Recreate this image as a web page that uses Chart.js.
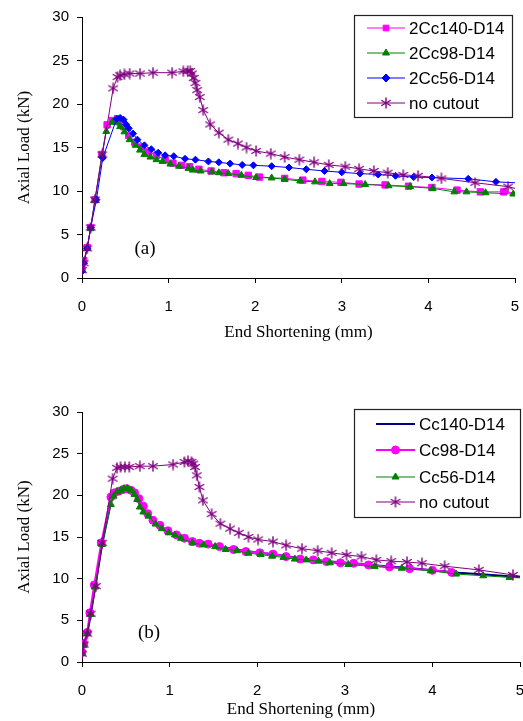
<!DOCTYPE html>
<html>
<head>
<meta charset="utf-8">
<script src="https://cdn.jsdelivr.net/npm/chart.js@4/dist/chart.umd.min.js"></script>
<style>
    body { margin: 0; background: #fff; }
    #wrap { position: relative; width: 523px; height: 721px; background: #fff; overflow: hidden; }
    #c1 { position: absolute; left: 0; top: 0; }
    #c2 { position: absolute; left: 0; top: 345px; }
</style>
</head>
<body>
<div id="wrap">
    <canvas id="c1" width="523" height="345"></canvas>
    <canvas id="c2" width="530" height="376"></canvas>
</div>
<script>
// ---- data (a) ----
const labelsA = ['2Cc140-D14', '2Cc98-D14', '2Cc56-D14', 'no cutout'];

const cc140X_a = [0, 0.02, 0.06, 0.1, 0.15, 0.23, 0.29, 0.35, 0.41, 0.44, 0.48, 0.54, 0.61, 0.69, 0.77, 0.86, 0.96, 1.05, 1.15, 1.24, 1.35, 1.49, 1.64, 1.78, 1.92, 2.05, 2.34, 2.55, 2.77, 2.99, 3.20, 3.50, 3.77, 4.04, 4.33, 4.60, 4.87, 5.0];
const cc140Y_a = [1.0, 2.0, 3.5, 5.8, 9.0, 14.2, 17.6, 18.1, 18.3, 17.9, 17.4, 16.4, 15.6, 15.05, 14.5, 14.1, 13.6, 13.2, 12.95, 12.8, 12.5, 12.3, 12.1, 12.0, 11.8, 11.6, 11.45, 11.25, 11.1, 11.0, 10.8, 10.7, 10.55, 10.4, 10.1, 9.9, 9.9, 9.8];

const cc98X_a = [0, 0.02, 0.06, 0.1, 0.15, 0.23, 0.28, 0.35, 0.40, 0.44, 0.49, 0.55, 0.62, 0.67, 0.72, 0.79, 0.86, 0.93, 1.02, 1.12, 1.23, 1.28, 1.37, 1.50, 1.58, 1.69, 1.84, 2.01, 2.19, 2.34, 2.52, 2.69, 2.86, 3.02, 3.27, 3.54, 3.79, 4.05, 4.30, 4.44, 4.66, 4.98, 5.0];
const cc98Y_a = [0.9, 1.9, 3.4, 5.7, 8.9, 14.1, 16.85, 17.9, 17.9, 17.4, 16.8, 15.9, 15.25, 14.7, 14.2, 13.9, 13.6, 13.4, 13.1, 12.85, 12.6, 12.4, 12.3, 12.2, 12.1, 12.0, 11.8, 11.55, 11.5, 11.35, 11.15, 11.05, 10.85, 10.85, 10.75, 10.6, 10.5, 10.3, 9.9, 9.9, 9.8, 9.65, 9.6];

const cc56X_a = [0, 0.02, 0.06, 0.1, 0.166, 0.24, 0.40, 0.44, 0.48, 0.51, 0.54, 0.59, 0.64, 0.72, 0.80, 0.88, 0.96, 1.06, 1.19, 1.31, 1.46, 1.58, 1.71, 1.85, 1.98, 2.19, 2.39, 2.59, 2.80, 3.00, 3.21, 3.42, 3.62, 3.83, 4.04, 4.46, 4.78, 5.0];
const cc56Y_a = [0.75, 1.7, 3.4, 5.8, 9.0, 13.8, 18.3, 18.4, 18.2, 17.65, 17.2, 16.6, 15.9, 15.25, 14.8, 14.4, 14.1, 14.0, 13.7, 13.6, 13.4, 13.3, 13.15, 13.0, 12.95, 12.85, 12.7, 12.5, 12.3, 12.15, 12.0, 11.9, 11.75, 11.6, 11.55, 11.4, 11.05, 10.95];

const noCutX_a = [0, 0.02, 0.06, 0.1, 0.15, 0.235, 0.36, 0.41, 0.44, 0.49, 0.55, 0.67, 0.82, 1.04, 1.17, 1.22, 1.25, 1.27, 1.29, 1.31, 1.33, 1.36, 1.40, 1.48, 1.58, 1.69, 1.80, 1.90, 2.01, 2.18, 2.34, 2.51, 2.68, 2.85, 3.04, 3.20, 3.37, 3.53, 3.71, 3.88, 4.15, 4.54, 4.92, 5.0];
const noCutY_a = [0.9, 1.7, 3.4, 5.8, 9.0, 14.2, 21.8, 23.1, 23.3, 23.4, 23.5, 23.5, 23.6, 23.6, 23.75, 23.8, 23.8, 23.5, 23.0, 22.4, 21.6, 20.8, 19.3, 17.65, 16.7, 15.9, 15.45, 15.0, 14.6, 14.3, 13.9, 13.6, 13.3, 13.0, 12.8, 12.55, 12.3, 12.1, 11.85, 11.75, 11.45, 10.95, 10.5, 10.3];

// ---- data (b) ----
const labelsB = ['Cc140-D14', 'Cc98-D14', 'Cc56-D14', 'no cutout'];

const cc140X_b = [0, 0.02, 0.06, 0.1, 0.15, 0.23, 0.33, 0.40, 0.48, 0.55, 0.62, 0.70, 0.80, 0.90, 1.0, 1.2, 1.4, 1.6, 1.8, 2.0, 2.2, 2.5, 2.8, 3.1, 3.4, 3.7, 4.0, 4.3, 4.6, 5.0];
const cc140Y_b = [1.0, 2.0, 3.4, 5.7, 9.0, 14.1, 19.2, 20.5, 20.8, 20.6, 19.9, 18.4, 17.0, 16.1, 15.5, 14.7, 14.15, 13.8, 13.45, 13.15, 12.9, 12.45, 12.1, 11.85, 11.55, 11.3, 11.0, 10.7, 10.5, 10.2];

const cc98X_b = [0, 0.02, 0.06, 0.09, 0.14, 0.22, 0.33, 0.37, 0.42, 0.47, 0.51, 0.56, 0.60, 0.65, 0.70, 0.75, 0.81, 0.89, 0.98, 1.08, 1.17, 1.26, 1.34, 1.44, 1.57, 1.73, 1.87, 2.03, 2.18, 2.33, 2.49, 2.64, 2.79, 2.95, 3.10, 3.27, 3.51, 3.74, 4.0, 4.22];
const cc98Y_b = [1.15, 2.2, 3.55, 5.9, 9.25, 14.3, 19.8, 20.3, 20.5, 20.7, 20.8, 20.6, 20.3, 19.6, 18.7, 17.8, 17.0, 16.4, 15.75, 15.25, 14.85, 14.45, 14.25, 14.15, 13.85, 13.5, 13.25, 13.1, 12.95, 12.65, 12.35, 12.25, 12.05, 11.9, 11.85, 11.65, 11.4, 11.2, 11.0, 10.75];

const cc56X_b = [0, 0.02, 0.06, 0.1, 0.15, 0.23, 0.33, 0.36, 0.40, 0.44, 0.48, 0.52, 0.56, 0.60, 0.63, 0.66, 0.70, 0.76, 0.84, 0.91, 0.99, 1.06, 1.13, 1.26, 1.39, 1.52, 1.64, 1.77, 1.90, 2.04, 2.17, 2.30, 2.43, 2.56, 2.70, 2.83, 3.04, 3.34, 3.65, 3.98, 4.27, 4.58, 4.88, 5.0];
const cc56Y_b = [1.0, 2.0, 3.4, 5.7, 9.0, 14.1, 18.9, 19.9, 20.4, 20.6, 20.8, 20.8, 20.6, 20.1, 19.5, 18.6, 18.0, 17.5, 16.55, 16.0, 15.5, 15.25, 14.85, 14.3, 14.05, 13.85, 13.5, 13.35, 13.05, 12.9, 12.7, 12.55, 12.35, 12.25, 12.1, 11.9, 11.7, 11.45, 11.25, 10.95, 10.55, 10.35, 10.15, 10.1];

const noCutX_b = [0, 0.02, 0.06, 0.1, 0.16, 0.23, 0.35, 0.40, 0.44, 0.49, 0.54, 0.66, 0.81, 1.04, 1.17, 1.21, 1.25, 1.27, 1.29, 1.31, 1.34, 1.38, 1.48, 1.58, 1.69, 1.79, 1.90, 2.01, 2.18, 2.33, 2.51, 2.69, 2.85, 3.02, 3.19, 3.36, 3.53, 3.71, 3.88, 4.14, 4.53, 4.92, 5.0];
const noCutY_b = [1.0, 2.1, 3.4, 5.8, 9.1, 14.3, 22.0, 23.3, 23.4, 23.4, 23.4, 23.5, 23.5, 23.7, 24.0, 24.1, 24.0, 23.8, 23.4, 22.4, 21.0, 19.4, 17.75, 16.6, 16.0, 15.5, 15.0, 14.7, 14.45, 14.0, 13.6, 13.35, 13.1, 12.85, 12.65, 12.25, 12.1, 12.0, 11.85, 11.5, 11.05, 10.45, 10.3];

function pts(xs, ys) {
    return xs.map((x, i) => ({ x: x, y: ys[i] }));
}

// asterisk marker (3 strokes) like the Excel one
function makeAsterisk(color, size) {
    const c = document.createElement('canvas');
    c.width = size; c.height = size;
    const g = c.getContext('2d');
    const r = size / 2 - 0.5;
    g.strokeStyle = color;
    g.lineWidth = 1.4;
    g.beginPath();
    for (let k = 0; k < 3; k++) {
        const a = Math.PI / 2 + k * Math.PI / 3;
        g.moveTo(size / 2 + r * Math.cos(a), size / 2 + r * Math.sin(a));
        g.lineTo(size / 2 - r * Math.cos(a), size / 2 - r * Math.sin(a));
    }
    g.stroke();
    return c;
}
const starMark = makeAsterisk('#800080', 12);

// hide marker on the last point (it sits on the right frame)
function hideLast(r) {
    return ctx => ctx.dataIndex === ctx.dataset.data.length - 1 && ctx.dataset.data[ctx.dataIndex].x >= 5 ? 0 : r;
}

function series(label, data, color, style, radius, width, n, i) {
    return {
        label: label,
        data: data,
        borderColor: color,
        backgroundColor: color,
        borderWidth: width,
        pointStyle: style,
        pointRadius: style === false ? 0 : hideLast(radius),
        pointBorderWidth: 1,
        tension: 0,
        order: n - 1 - i
    };
}

// boxed legend inside the plot, like the original figure
const boxLegend = {
    id: 'boxLegend',
    afterDraw(chart, args, opts) {
        const ctx = chart.ctx;
        ctx.save();
        ctx.fillStyle = '#fff';
        ctx.fillRect(opts.x, opts.y, opts.w, opts.h);
        ctx.strokeStyle = '#222';
        ctx.lineWidth = 1.2;
        ctx.strokeRect(opts.x + 0.5, opts.y + 0.5, opts.w, opts.h);
        ctx.font = opts.font;
        ctx.textBaseline = 'middle';
        chart.data.datasets.forEach((ds, i) => {
            const y = opts.rows[i];
            ctx.strokeStyle = ds.borderColor;
            ctx.lineWidth = ds.borderWidth;
            ctx.beginPath();
            ctx.moveTo(opts.x0, y);
            ctx.lineTo(opts.x1, y);
            ctx.stroke();
            if (ds.pointStyle !== false) {
                const mx = (opts.x0 + opts.x1) / 2;
                if (ds.pointStyle instanceof HTMLCanvasElement) {
                    ctx.drawImage(ds.pointStyle, mx - ds.pointStyle.width / 2, y - ds.pointStyle.height / 2);
                } else if (Chart.helpers && Chart.helpers.drawPoint) {
                    ctx.fillStyle = ds.backgroundColor;
                    ctx.strokeStyle = ds.borderColor;
                    ctx.lineWidth = 1;
                    Chart.helpers.drawPoint(ctx, { pointStyle: ds.pointStyle, radius: opts.markR, rotation: 0, borderWidth: 1 }, mx, y);
                }
            }
            ctx.fillStyle = '#000';
            ctx.fillText(ds.label, opts.tx, y + 1);
        });
        ctx.restore();
    }
};

// "(a)" / "(b)" note
const panelNote = {
    id: 'panelNote',
    afterDraw(chart, args, opts) {
        const ctx = chart.ctx;
        ctx.save();
        ctx.font = '19px "Liberation Serif", "Times New Roman", serif';
        ctx.fillStyle = '#000';
        ctx.textAlign = 'center';
        ctx.textBaseline = 'middle';
        ctx.fillText(opts.text, opts.x, opts.y);
        ctx.restore();
    }
};

function makeOptions(cfg) {
    const tickFont = { family: '"Liberation Sans", Arial, sans-serif', size: 15 };
    const titleFont = { family: '"Liberation Serif", "Times New Roman", serif', size: 17 };
    return {
        responsive: false,
        animation: false,
        layout: { padding: { left: 0, right: cfg.padRight, top: cfg.padTop, bottom: 0 } },
        plugins: {
            legend: { display: false },
            tooltip: { enabled: false },
            boxLegend: cfg.legend,
            panelNote: cfg.note
        },
        scales: {
            x: {
                type: 'linear',
                min: 0,
                max: 5,
                ticks: { stepSize: 1, color: '#000', font: tickFont, padding: 15 },
                grid: { drawOnChartArea: false, drawTicks: true, tickLength: 5, color: '#000' },
                border: { color: '#000', width: 1 },
                title: { display: true, text: 'End Shortening (mm)', color: '#000', font: titleFont, padding: { top: 0, bottom: cfg.xTitlePad } },
                afterFit: s => {
                    s.height = cfg.xHeight;
                    s.paddingLeft = 0;
                    s.paddingRight = 0;
                }
            },
            y: {
                min: 0,
                max: 30,
                ticks: { stepSize: 5, color: '#000', font: tickFont, padding: 8 },
                grid: { drawOnChartArea: false, drawTicks: true, tickLength: 5, color: '#000' },
                border: { color: '#000', width: 1 },
                title: { display: true, text: 'Axial Load (kN)', color: '#000', font: titleFont, padding: { top: 14, bottom: 0 } },
                afterFit: s => { s.width = 82; }
            }
        }
    };
}

const legendFont = '17px "Liberation Sans", Arial, sans-serif';

// CHART (a)
new Chart(document.getElementById('c1').getContext('2d'), {
    type: 'line',
    data: {
        datasets: [
            series(labelsA[0], pts(cc140X_a, cc140Y_a), '#ff00ff', 'rect', 4.5, 1, 4, 0),
            series(labelsA[1], pts(cc98X_a, cc98Y_a), '#008000', 'triangle', 4, 1, 4, 1),
            series(labelsA[2], pts(cc56X_a, cc56Y_a), '#0000ff', 'rectRot', 3.5, 1, 4, 2),
            series(labelsA[3], pts(noCutX_a, noCutY_a), '#800080', starMark, 6, 1, 4, 3)
        ]
    },
    options: makeOptions({
        padRight: 8, padTop: 16, xHeight: 67, xTitlePad: 2,
        legend: { x: 354, y: 15, w: 158, h: 102, x0: 367, x1: 405, tx: 409, rows: [28, 53, 78, 103], font: legendFont, markR: 4 },
        note: { text: '(a)', x: 145, y: 249 }
    }),
    plugins: [boxLegend, panelNote]
});

// CHART (b) - canvas is wider than the page so the "5" label is cut like the original
new Chart(document.getElementById('c2').getContext('2d'), {
    type: 'line',
    data: {
        datasets: [
            series(labelsB[0], pts(cc140X_b, cc140Y_b), '#000080', false, 0, 2, 4, 0),
            series(labelsB[1], pts(cc98X_b, cc98Y_b), '#ff00ff', 'circle', 4, 2, 4, 1),
            series(labelsB[2], pts(cc56X_b, cc56Y_b), '#008000', 'triangle', 4, 1, 4, 2),
            series(labelsB[3], pts(noCutX_b, noCutY_b), '#800080', starMark, 6, 1, 4, 3)
        ]
    },
    options: makeOptions({
        padRight: 10, padTop: 67, xHeight: 59, xTitlePad: 1,
        legend: { x: 354, y: 64, w: 166, h: 108, x0: 376, x1: 415, tx: 419, rows: [79, 105, 132, 157], font: legendFont, markR: 4 },
        note: { text: '(b)', x: 149, y: 288 }
    }),
    plugins: [boxLegend, panelNote]
});
</script>
</body>
</html>
